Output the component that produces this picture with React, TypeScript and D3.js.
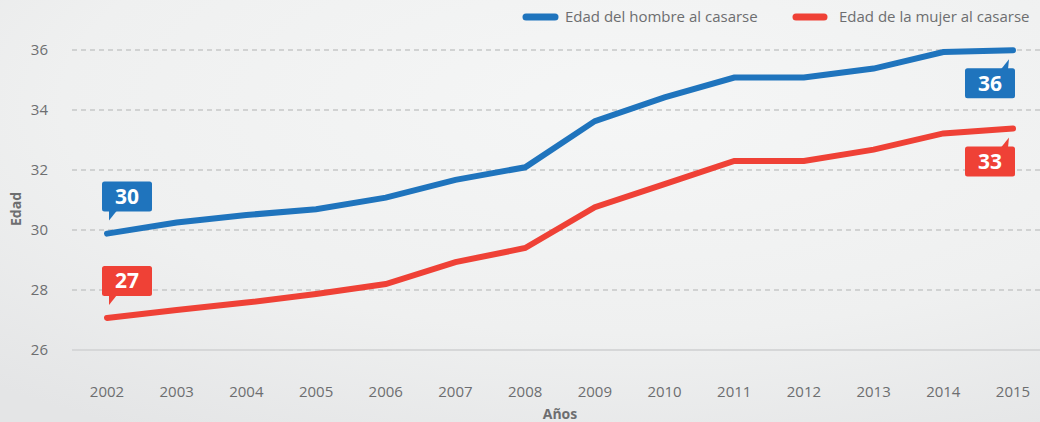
import React from "react";
import * as d3 from "d3";

const years = [2002, 2003, 2004, 2005, 2006, 2007, 2008, 2009, 2010, 2011, 2012, 2013, 2014, 2015];
const hombre = [29.88, 30.25, 30.5, 30.69, 31.08, 31.67, 32.09, 33.63, 34.42, 35.08, 35.08, 35.38, 35.93, 35.99];
const mujer = [27.07, 27.33, 27.58, 27.87, 28.2, 28.93, 29.4, 30.76, 31.53, 32.3, 32.3, 32.68, 33.22, 33.38];
const yTicks = [26, 28, 30, 32, 34, 36];
const seriesNames = ["Edad del hombre al casarse", "Edad de la mujer al casarse"];
const startLabels = ["30", "27"];
const endLabels = ["36", "33"];

const W = 1040;
const H = 422;
const BLUE = "#1f74bd";
const RED = "#ef4136";
const FONT = "'Open Sans', 'Noto Sans', sans-serif";

export default function App() {
  const x = d3.scalePoint<number>().domain(years).range([107, 1013]);
  const y = d3.scaleLinear().domain([26, 36]).range([350, 50]);
  const line = d3
    .line<number>()
    .x((_, i) => x(years[i]) as number)
    .y((d) => y(d));

  const series = [
    { values: hombre, color: BLUE },
    { values: mujer, color: RED },
  ];

  const startCallout = (v: number, color: string, label: string, key: string) => {
    const px = x(years[0]) as number;
    const py = y(v);
    const bx = px - 5;
    const by = py - 52;
    const tail = `M${px + 2},${by + 29} L${px + 2},${py - 13} L${px + 10},${by + 29} Z`;
    return (
      <g key={key}>
        <rect x={bx} y={by} width={50} height={30} rx={2.5} fill={color} />
        <path d={tail} fill={color} />
        <text x={bx + 25} y={by + 22.5} textAnchor="middle" fill="#fff" fontSize={21} fontWeight={700} fontFamily={FONT}>
          {label}
        </text>
      </g>
    );
  };
  const endCallout = (v: number, color: string, label: string, key: string) => {
    const px = x(years[years.length - 1]) as number;
    const py = y(v);
    const bx = px - 48;
    const by = py + 18;
    const tail = `M${px - 5},${by + 1} L${px - 4},${py + 9} L${px - 12},${by + 1} Z`;
    return (
      <g key={key}>
        <rect x={bx} y={by} width={50} height={30} rx={2.5} fill={color} />
        <path d={tail} fill={color} />
        <text x={bx + 25} y={by + 22.5} textAnchor="middle" fill="#fff" fontSize={21} fontWeight={700} fontFamily={FONT}>
          {label}
        </text>
      </g>
    );
  };

  return (
    <svg width={W} height={H} style={{ position: "absolute", left: 0, top: 0 }} fontFamily={FONT}>
      <defs>
        <radialGradient id="bg" cx="0.6" cy="0.25" r="0.9">
          <stop offset="0" stopColor="#f5f6f6" />
          <stop offset="0.6" stopColor="#eff0f0" />
          <stop offset="1" stopColor="#e4e5e6" />
        </radialGradient>
      </defs>
      <rect x={0} y={0} width={W} height={H} fill="url(#bg)" />

      {yTicks.map((t) => (
        <g key={t}>
          <line
            x1={72}
            x2={W}
            y1={y(t)}
            y2={y(t)}
            stroke={t === 26 ? "#d6d7d8" : "#c6c7c8"}
            strokeWidth={t === 26 ? 2 : 1.3}
            strokeDasharray={t === 26 ? undefined : "5,4"}
          />
          <text x={48} y={y(t) + 5} textAnchor="end" fontSize={15} fill="#6d6e70">
            {t}
          </text>
        </g>
      ))}

      {years.map((yr) => (
        <text key={yr} x={x(yr) as number} y={397} textAnchor="middle" fontSize={15} fill="#6d6e70">
          {yr}
        </text>
      ))}

      <text x={560} y={419} textAnchor="middle" fontSize={14} fontWeight={700} fill="#6d6e70">
        Años
      </text>
      <text
        transform={`translate(21,${y(30.7)}) rotate(-90)`}
        textAnchor="middle"
        fontSize={14}
        fontWeight={700}
        fill="#6d6e70"
      >
        Edad
      </text>

      {series.map((s, i) => (
        <path
          key={i}
          d={line(s.values) || ""}
          fill="none"
          stroke={s.color}
          strokeWidth={6}
          strokeLinecap="round"
          strokeLinejoin="miter"
        />
      ))}

      {startCallout(hombre[0], BLUE, startLabels[0], "s0")}
      {startCallout(mujer[0], RED, startLabels[1], "s1")}
      {endCallout(hombre[hombre.length - 1], BLUE, endLabels[0], "e0")}
      {endCallout(mujer[mujer.length - 1], RED, endLabels[1], "e1")}

      <line x1={526} x2={555} y1={17} y2={17} stroke={BLUE} strokeWidth={7} strokeLinecap="round" />
      <text x={565} y={22} fontSize={15} fill="#6d6e70">
        {seriesNames[0]}
      </text>
      <line x1={796} x2={824} y1={17} y2={17} stroke={RED} strokeWidth={7} strokeLinecap="round" />
      <text x={839} y={22} fontSize={15} fill="#6d6e70">
        {seriesNames[1]}
      </text>
    </svg>
  );
}
